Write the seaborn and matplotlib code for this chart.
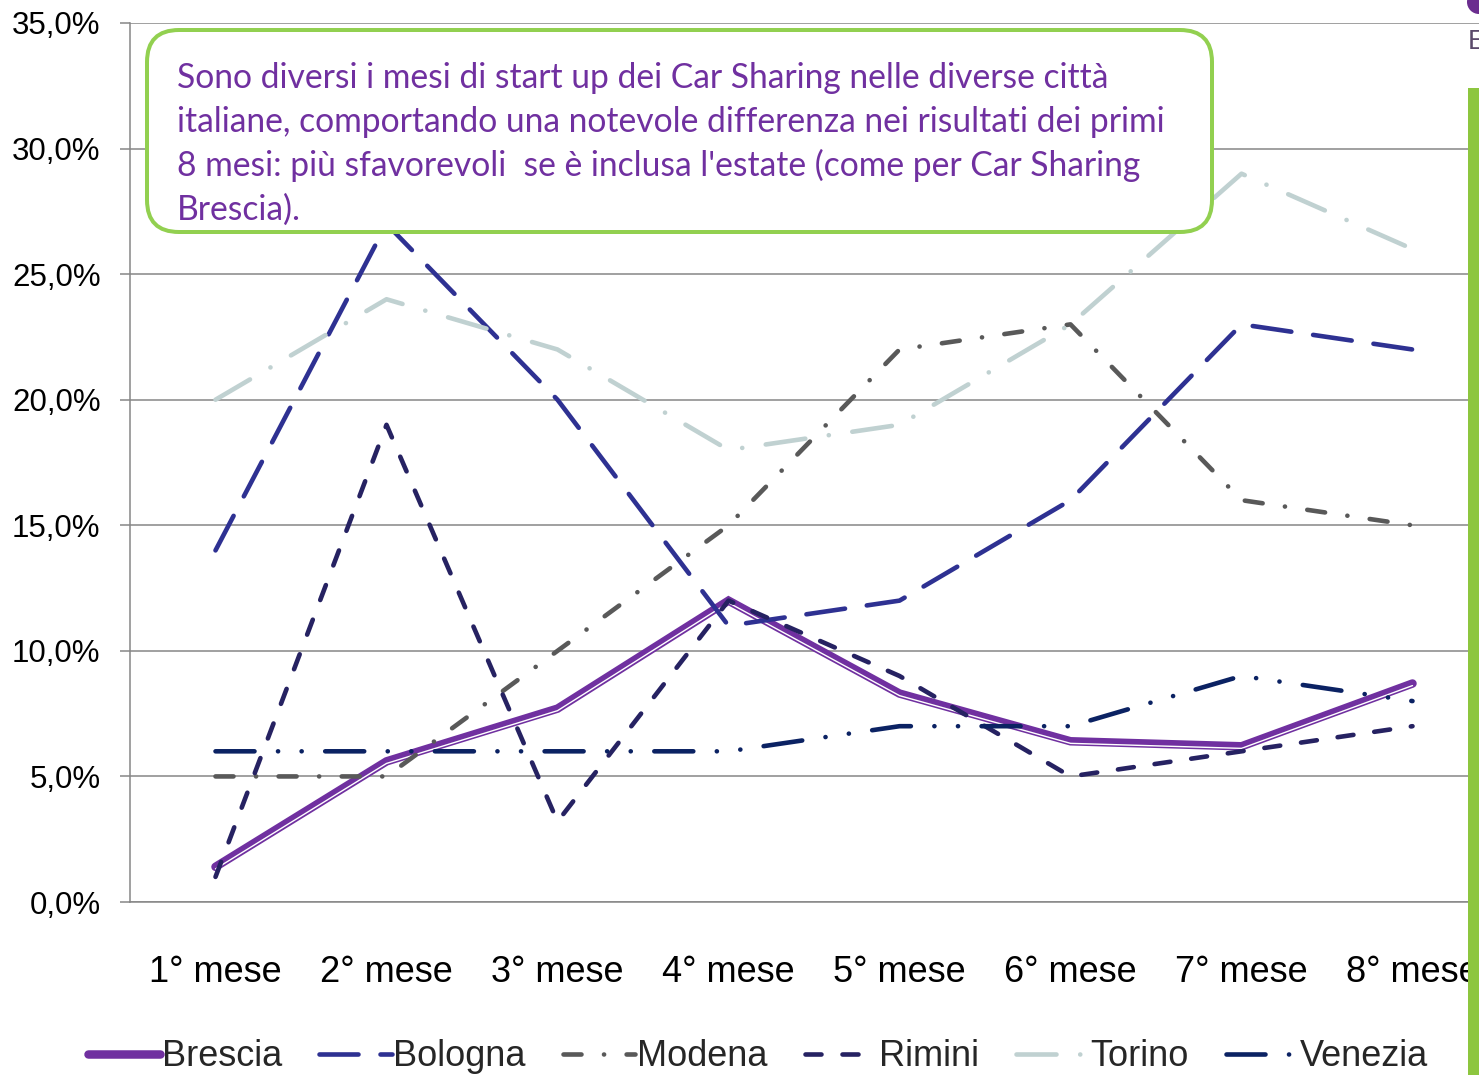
import numpy as np
import pandas as pd
import matplotlib
matplotlib.use('Agg')
import matplotlib.pyplot as plt
import matplotlib.patheffects as pe
from matplotlib.lines import Line2D
from matplotlib.patches import FancyBboxPatch, Rectangle, Circle
from matplotlib.ticker import FuncFormatter
import seaborn as sns

#Dati
mesi = ['1° mese', '2° mese', '3° mese', '4° mese', '5° mese', '6° mese', '7° mese', '8° mese']
citta = ['Brescia', 'Bologna', 'Modena', 'Rimini', 'Torino', 'Venezia']
brescia = [1.4, 5.6, 7.7, 12.0, 8.3, 6.4, 6.2, 8.7]
bologna = [14.0, 27.0, 20.0, 11.0, 12.0, 16.0, 23.0, 22.0]
modena = [5.0, 5.0, 10.0, 15.0, 22.0, 23.0, 16.0, 15.0]
rimini = [1.0, 19.0, 3.2, 12.0, 9.0, 5.0, 6.0, 7.0]
torino = [20.0, 24.0, 22.0, 18.0, 19.0, 23.0, 29.0, 26.0]
venezia = [6.0, 6.0, 6.0, 6.0, 7.0, 7.0, 9.0, 8.0]
valori = [brescia, bologna, modena, rimini, torino, venezia]

testo = ["Sono diversi i mesi di start up dei Car Sharing nelle diverse città",
         "italiane, comportando una notevole differenza nei risultati dei primi",
         "8 mesi: più sfavorevoli  se è inclusa l'estate (come per Car Sharing",
         "Brescia)."]

#long format table
df = pd.DataFrame({'citta': np.repeat(citta, len(mesi)),
                   'pos': np.tile(np.arange(len(mesi)), len(citta)),
                   'valore': np.concatenate(valori)})

#stili (pixel -> punti a 100 dpi)
PX = 0.72
colori = {'Brescia': '#7030a0', 'Bologna': '#2e3192', 'Modena': '#595959',
          'Rimini': '#262262', 'Torino': '#c0d1d1', 'Venezia': '#0b2263'}
spessori = {'Brescia': 8.5, 'Bologna': 4.6, 'Modena': 4.6, 'Rimini': 4.6, 'Torino': 4.6, 'Venezia': 4.6}
tratti = {'Brescia': None,
          'Bologna': (39, 22),
          'Modena': (18, 22.5, 0.1, 22.5),
          'Rimini': (16, 21),
          'Torino': (40, 23.7, 0.1, 23.7),
          'Venezia': (39, 23.5, 0.1, 23.5, 0.1, 23.5)}

def stile(c):
    if tratti[c] is None:
        return '-'
    return (0, tuple(v * PX for v in tratti[c]))

W, H = 1479, 1075
sns.set_theme(style='white')
plt.rcParams['font.family'] = ['Liberation Sans', 'DejaVu Sans']
plt.rcParams['lines.scale_dashes'] = False

fig = plt.figure(figsize=(W / 100, H / 100), dpi=100)
ax = fig.add_axes([130 / W, 1 - 902 / H, 1368 / W, 879 / H])

for c in citta:
    sub = df[df['citta'] == c]
    extra = {}
    if c == 'Brescia':
        extra['path_effects'] = [pe.Normal(),
                                 pe.Stroke(linewidth=1.0, foreground='white', offset=(0, -1.5))]
    sns.lineplot(data=sub, x='pos', y='valore', ax=ax, color=colori[c],
                 lw=spessori[c] * PX, linestyle=stile(c), dash_capstyle='round',
                 solid_capstyle='round', solid_joinstyle='miter', legend=False, **extra)

grigio = '#868686'
ax.set_xlim(-0.5, len(mesi) - 0.5)
ax.set_ylim(0, 35)
ax.set_yticks(np.arange(0, 36, 5))
ax.yaxis.set_major_formatter(FuncFormatter(lambda v, p: f"{v:.1f}%".replace('.', ',')))
ax.set_xticks(np.arange(len(mesi)))
ax.set_xticklabels(mesi)
ax.set_xticks(np.arange(-0.5, len(mesi), 1), minor=True)
ax.set_xlabel('')
ax.set_ylabel('')
ax.tick_params(axis='x', which='major', length=0, pad=38, labelsize=26, labelcolor='black')
ax.tick_params(axis='x', which='minor', length=11 * PX, width=1.1, color=grigio, direction='out')
ax.tick_params(axis='y', left=True, length=10 * PX, width=1.1, color=grigio, pad=14,
               labelsize=22.5, labelcolor='black', direction='out')
ax.grid(axis='y', color=grigio, lw=1.1)
ax.grid(axis='x', visible=False)
ax.set_axisbelow(True)
for s in ['top', 'right']:
    ax.spines[s].set_visible(False)
for s in ['left', 'bottom']:
    ax.spines[s].set_color(grigio)
    ax.spines[s].set_linewidth(1.1)

#legenda
maniglie = [Line2D([], [], color=colori[c], lw=spessori[c] * PX, linestyle=stile(c),
                   dash_capstyle='round', solid_capstyle='round') for c in citta]
fig.legend(maniglie, citta, loc='center', bbox_to_anchor=(758 / W, 1 - 1057 / H), ncol=6,
           frameon=False, fontsize=26, handlelength=2.0, handletextpad=0.05,
           columnspacing=1.03, borderpad=0)

#sovrapposizione in pixel: riquadro di testo e bordo destro
ov = fig.add_axes([0, 0, 1, 1], zorder=5)
ov.set_xlim(0, W)
ov.set_ylim(H, 0)
ov.axis('off')
box = FancyBboxPatch((147, 30), 1065, 202, boxstyle='round,pad=0,rounding_size=32',
                     facecolor='white', edgecolor='#92d050', lw=4 * PX)
ov.add_patch(box)
for i, riga in enumerate(testo):
    ov.text(177, 88 + 44 * i, riga, fontsize=24.2, color='#7030a0', va='baseline', ha='left',
            family=['Lato', 'DejaVu Sans'])
ov.add_patch(Rectangle((1468, 88), 11, H - 88, facecolor='#8dc63f', edgecolor='none'))
ov.add_patch(Circle((1479, 2), 12, facecolor='#6b2d8f', edgecolor='none'))
ov.text(1468, 42, 'E', fontsize=20, color='#5b4a6b', va='center', ha='left')

fig.savefig('out.png', dpi=100)
